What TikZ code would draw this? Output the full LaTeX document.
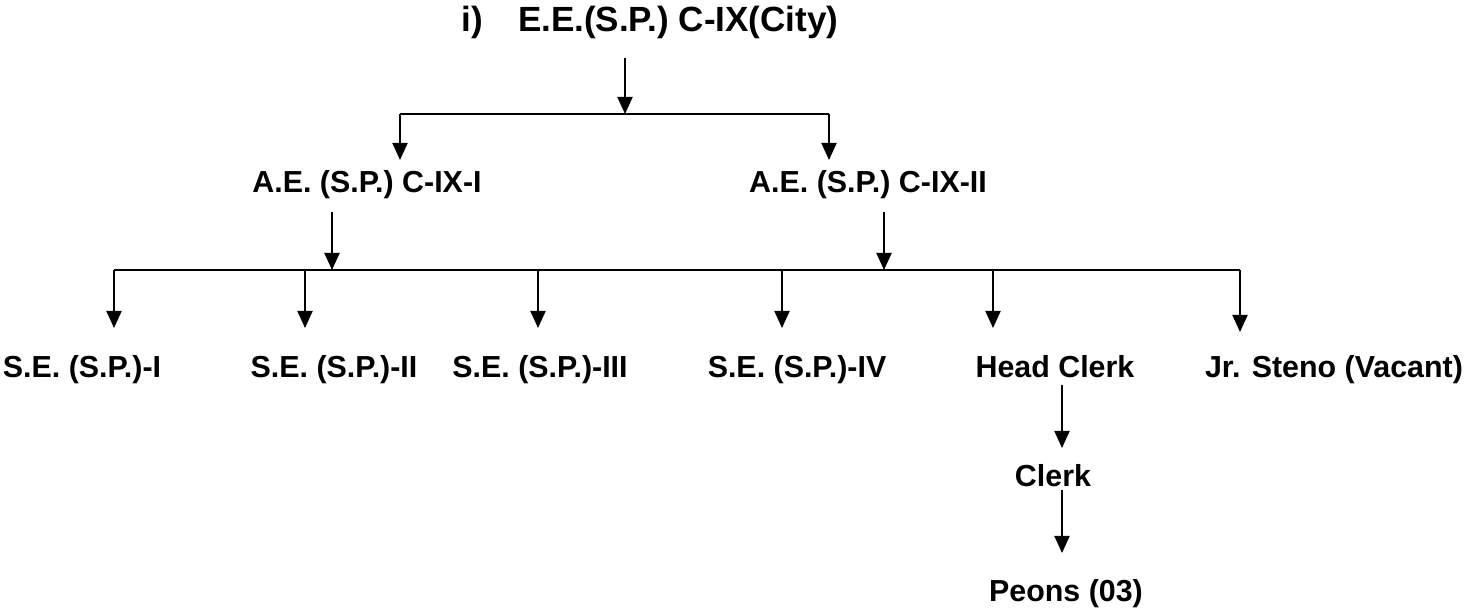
\documentclass[tikz,border=0pt]{standalone}
\usepackage{fontspec}
\setmainfont{Liberation Sans}
\usetikzlibrary{arrows.meta}
\tikzset{
  lbl/.style={font=\fontsize{15.2pt}{18pt}\selectfont\bfseries, inner sep=0pt, anchor=base},
  ttl/.style={font=\fontsize{17.5pt}{20pt}\selectfont\bfseries, inner sep=0pt, anchor=base},
  arr/.style={line width=1pt, -{Triangle[width=7.5pt,length=8.5pt]}},
  ln/.style={line width=1pt}
}
\begin{document}
\begin{tikzpicture}[x=0.5pt,y=-0.5pt]
\useasboundingbox (0,0) rectangle (1472,613);
% nodes
\node[ttl] (title) at (650,32) {i)\hspace{1em}E.E.(S.P.) C-IX(City)};
\node[lbl] (ae1) at (367,193) {A.E. (S.P.) C-IX-I};
\node[lbl] (ae2) at (868,193) {A.E. (S.P.) C-IX-II};
\node[lbl] (se1) at (82,378) {S.E. (S.P.)-I};
\node[lbl] (se2) at (334,378) {S.E. (S.P.)-II};
\node[lbl] (se3) at (540,378) {S.E. (S.P.)-III};
\node[lbl] (se4) at (797,378) {S.E. (S.P.)-IV};
\node[lbl] (hc) at (1055,378) {Head Clerk};
\node[lbl] (js) at (1334,378) {Jr. Steno (Vacant)};
\node[lbl] (cl) at (1053,487) {Clerk};
\node[lbl] (pe) at (1066,602) {Peons (03)};
% junction coordinates
\coordinate (t0) at (625,58);
\coordinate (j1) at (625,114);
\coordinate (l1) at (400,114);
\coordinate (r1) at (829,114);
\coordinate (l1e) at (400,160);
\coordinate (r1e) at (829,160);
\coordinate (a1s) at (332,212);
\coordinate (a1e) at (332,270);
\coordinate (a2s) at (884,212);
\coordinate (a2e) at (884,270);
\coordinate (h2l) at (114,270);
\coordinate (h2r) at (1240,270);
\coordinate (d1) at (114,328);
\coordinate (d2) at (305,270);
\coordinate (d2e) at (305,328);
\coordinate (d3) at (538,270);
\coordinate (d3e) at (538,328);
\coordinate (d4) at (782,270);
\coordinate (d4e) at (782,328);
\coordinate (d5) at (993,270);
\coordinate (d5e) at (993,328);
\coordinate (d6) at (1240,332);
\coordinate (c1s) at (1062,385);
\coordinate (c1e) at (1062,448);
\coordinate (c2s) at (1062,490);
\coordinate (c2e) at (1062,553);
% connectors
\draw[arr] (t0) -- (j1);
\draw[ln] (l1) -- (r1);
\draw[arr] (l1) -- (l1e);
\draw[arr] (r1) -- (r1e);
\draw[arr] (a1s) -- (a1e);
\draw[arr] (a2s) -- (a2e);
\draw[ln] (h2l) -- (h2r);
\draw[arr] (h2l) -- (d1);
\draw[arr] (d2) -- (d2e);
\draw[arr] (d3) -- (d3e);
\draw[arr] (d4) -- (d4e);
\draw[arr] (d5) -- (d5e);
\draw[arr] (h2r) -- (d6);
\draw[arr] (c1s) -- (c1e);
\draw[arr] (c2s) -- (c2e);
\end{tikzpicture}
\end{document}
